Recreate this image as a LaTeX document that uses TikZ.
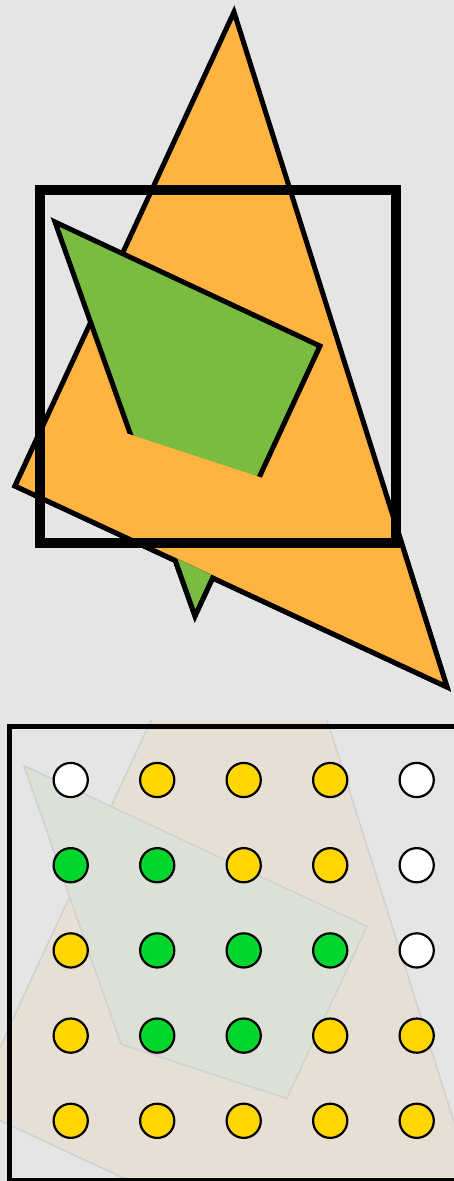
\documentclass[tikz,border=0pt]{standalone}
\definecolor{bggray}{RGB}{229,229,229}
\definecolor{triorange}{RGB}{255,179,64}
\definecolor{quadgreen}{RGB}{122,187,66}
\definecolor{fadeorange}{RGB}{231,223,212}
\definecolor{fadegreen}{RGB}{219,225,214}
\definecolor{fadeedge}{RGB}{208,208,208}
\definecolor{dotyellow}{RGB}{255,214,0}
\definecolor{dotgreen}{RGB}{0,214,45}
\begin{document}
\begin{tikzpicture}[x=1pt,y=-1pt,
  shapeline/.style={line width=5pt,line join=miter},
  fadeline/.style={draw=fadeedge,line width=1.5pt},
  dot/.style={circle,draw=black,line width=2.2pt,minimum size=34.2pt,inner sep=0pt}]
\useasboundingbox (0,0) rectangle (454,1181);
\fill[bggray] (0,0) rectangle (454,1181);
% ---------- top scene ----------
\coordinate (O1) at (234,12);
\coordinate (O2) at (15,486);
\coordinate (O3) at (447,687);
\coordinate (G1) at (55,222);
\coordinate (G2) at (320,346);
\coordinate (T) at (195,616);
% orange triangle
\filldraw[fill=triorange,draw=black,shapeline] (O1) -- (O2) -- (O3) -- cycle;
% green shape
\filldraw[fill=quadgreen,draw=black,shapeline] (G1) -- (G2) -- (T) -- cycle;
% orange band over the green
\begin{scope}
  \clip (0,391.8) -- (454,540.8) -- (454,700) -- (0,700) -- cycle;
  \begin{scope}
    \clip (O1) -- (O2) -- (O3) -- cycle;
    \fill[triorange] (0,391.8) -- (454,540.8) -- (454,700) -- (0,700) -- cycle;
  \end{scope}
  \draw[shapeline] (O1) -- (O2) -- (O3) -- cycle;
\end{scope}
% green tip below the triangle edge
\begin{scope}
  \clip (100,522.8) -- (300,615.9) -- (300,700) -- (100,700) -- cycle;
  \filldraw[fill=quadgreen,draw=black,shapeline] (G1) -- (G2) -- (T) -- cycle;
\end{scope}
% frame
\draw[line width=10pt] (40,190) rectangle (396,543);
% ---------- bottom scene ----------
\begin{scope}
  \clip (0,720) rectangle (454,1181);
  \filldraw[fill=fadeorange,fadeline] (255.7,493.7) -- (-27.9,1107.6) -- (531.6,1367.8) -- cycle;
  \filldraw[fill=fadegreen,fadeline] (24,765.7) -- (367.1,926.3) -- (286.8,1098.5) -- (121,1044.1) -- cycle;
\end{scope}
\draw[line width=5pt] (9,726.5) rectangle (470,1180);
\foreach \col [count=\k from 0] in {
  white,dotyellow,dotyellow,dotyellow,white,
  dotgreen,dotgreen,dotyellow,dotyellow,white,
  dotyellow,dotgreen,dotgreen,dotgreen,white,
  dotyellow,dotgreen,dotgreen,dotyellow,dotyellow,
  dotyellow,dotyellow,dotyellow,dotyellow,dotyellow}{
  \pgfmathtruncatemacro\rr{int(\k/5)}
  \pgfmathtruncatemacro\cc{mod(\k,5)}
  \node[dot,fill=\col] (d\rr\cc) at ({70.7+86.5*\cc},{780+85.2*\rr}) {};
}
\end{tikzpicture}
\end{document}
